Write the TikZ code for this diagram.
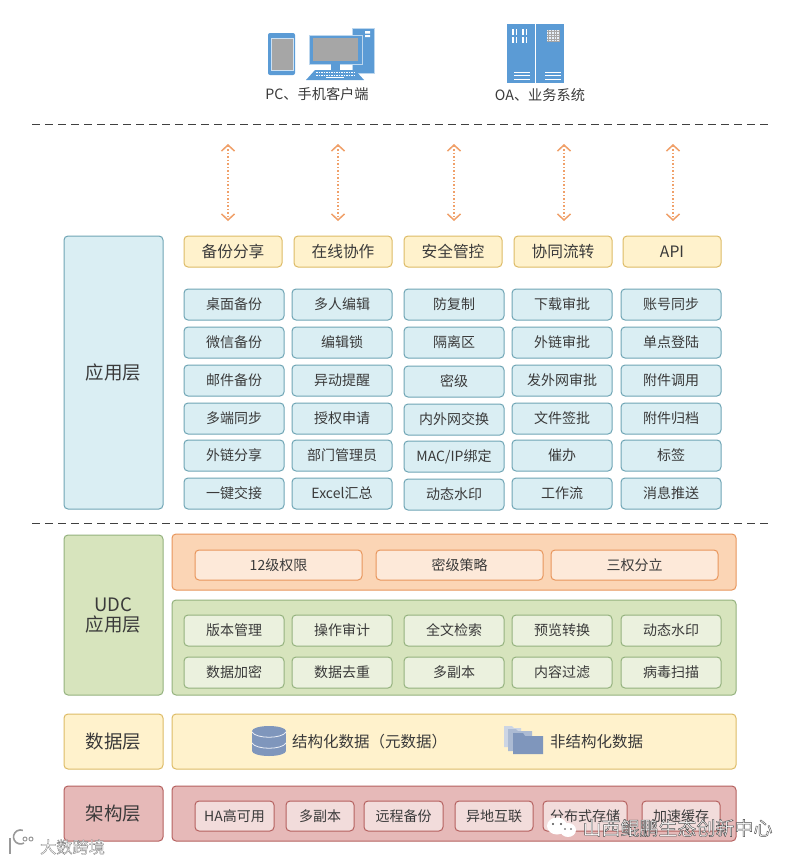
\documentclass[tikz,border=0pt]{standalone}
\usepackage{fontspec}
\setmainfont{Noto Sans CJK SC}
\usetikzlibrary{arrows.meta}
\definecolor{txt}{HTML}{3A3A3A}
\definecolor{bluef}{HTML}{DAEEF3}\definecolor{blued}{HTML}{6FA5B5}
\definecolor{yelf}{HTML}{FFF2CC}\definecolor{yeld}{HTML}{DDBB66}
\definecolor{grnf}{HTML}{D7E4BD}\definecolor{grnd}{HTML}{94B27E}\definecolor{grni}{HTML}{EBF1DE}
\definecolor{orgf}{HTML}{FBD5B5}\definecolor{orgd}{HTML}{E8965C}\definecolor{orgi}{HTML}{FDE9D9}
\definecolor{redf}{HTML}{E6B9B8}\definecolor{redd}{HTML}{B5615F}\definecolor{redi}{HTML}{F2DCDB}
\definecolor{icon}{HTML}{5B9BD5}\definecolor{scr}{HTML}{A6A6A6}\definecolor{dbc}{HTML}{7F96BC}
\definecolor{flowc}{HTML}{F0A069}
\newcommand{\halotext}[2]{\special{pdf:code 2 Tr #1 w #2 G}}
\newcommand{\halooff}{\special{pdf:code 0 Tr 1 w}}
\tikzset{
  basebox/.style={draw,line width=1pt,rounded corners=4pt,inner sep=0pt,align=center,text=txt,font=\fontsize{14}{17}\selectfont},
  bluebox/.style={basebox,fill=bluef,draw=blued},
  yelbox/.style={basebox,fill=yelf,draw=yeld,font=\fontsize{15.7}{18}\selectfont},
  grnbox/.style={basebox,fill=grnf,draw=grnd},
  grninner/.style={basebox,fill=grni,draw=grnd},
  orgbox/.style={basebox,fill=orgf,draw=orgd},
  orginner/.style={basebox,fill=orgi,draw=orgd},
  redbox/.style={basebox,fill=redf,draw=redd},
  redinner/.style={basebox,fill=redi,draw=redd},
  layerfont/.style={font=\fontsize{18.5}{22}\selectfont},
  sepline/.style={draw=black!75,line width=1pt,dash pattern=on 8pt off 5pt},
  flow/.style={draw=flowc,line width=1.5pt,dash pattern=on 1.5pt off 2pt,{Straight Barb[length=6pt,width=13pt,line width=1.5pt]}-{Straight Barb[length=6pt,width=13pt,line width=1.5pt]}},
  caption/.style={text=txt,font=\fontsize{14.2}{17}\selectfont,inner sep=0pt},
  datatext/.style={text=txt,font=\fontsize{15.5}{18}\selectfont,inner sep=0pt,anchor=west},
  wmark/.style={text=white,inner sep=0pt,font=\fontsize{19}{22}\selectfont},
  smark/.style={text=white,inner sep=0pt,font=\fontsize{16.2}{19}\selectfont}
}
\newcommand{\bx}[7]{%
  \pgfmathsetmacro{\cxx}{(#3+#5)/2}\pgfmathsetmacro{\cyy}{(#4+#6)/2}%
  \pgfmathsetlengthmacro{\ww}{(#5-#3)*1pt}\pgfmathsetlengthmacro{\hh}{(#6-#4)*1pt}%
  \node[#2,minimum width=\ww,minimum height=\hh] (#1) at (\cxx,\cyy) {#7};}
\begin{document}
\begin{tikzpicture}[x=1pt,y=-1pt]
\useasboundingbox (0,0) rectangle (798,862);
\fill[white] (0,0) rectangle (798,862);
% tablet
\fill[icon,rounded corners=2pt] (268,33) rectangle (295,75);
\fill[scr,draw=white!70!icon,line width=.7pt] (271,38) rectangle (293,70);
% tower
\fill[icon,draw=white!60!icon,line width=.6pt] (352,28) rectangle (374,73);
\fill[white] (365,31) rectangle (370,33.5) (365,35) rectangle (370,37);
% monitor
\fill[icon,draw=white!60!icon,line width=.7pt] (309,35) rectangle (362,64);
\fill[scr] (313,38) rectangle (358,61);
\fill[icon] (331,64) rectangle (340,70);
\fill[white] (340,65) rectangle (352,70);
\fill[icon] (315,70) -- (355,70) -- (364,80) -- (306,80) -- cycle;
\foreach \r in {72.5,75}{\draw[white,line width=.9pt,dash pattern=on 1.5pt off 1pt] (316,\r) -- (354,\r);}
\draw[white,line width=1.2pt] (326,77.5) -- (344,77.5);
% server
\fill[icon] (507,24) rectangle (535,83);
\fill[icon] (536,24) rectangle (564,83);
\foreach \x in {512,515.5,522,525.5}{\foreach \y in {29,37}{\fill[white] (\x,\y) rectangle +(1.8,6);}}
\fill[white!85!icon] (547,30) rectangle (560,42);
\draw[scr,line width=.4pt,step=2.6pt] (547,30) grid (560,42);
\foreach \y in {72,75.5,79}{\draw[white,line width=.8pt] (514,\y) -- (530,\y) (545,\y) -- (561,\y);}
% captions
\node[caption] (capa) at (317,94) {PC、手机客户端};
\node[caption] (capb) at (540,95.5) {OA、业务系统};
% separators
\coordinate (sa1) at (32,124); \coordinate (sa2) at (772,124);
\coordinate (sb1) at (32,523); \coordinate (sb2) at (772,523);
\draw[sepline] (sa1) -- (sa2);
\draw[sepline] (sb1) -- (sb2);
% arrows
\foreach \n/\x in {a/228,b/338,c/454,d/564,e/673}{
  \coordinate (t\n) at (\x,144); \coordinate (u\n) at (\x,221);
  \draw[flow] (t\n) -- (u\n);
}
% application layer
\bx{app}{bluebox,layerfont}{64}{236}{163}{509}{应用层}
\bx{h1}{yelbox}{184}{236}{282}{267}{备份分享}
\bx{h2}{yelbox}{294}{236}{392}{267}{在线协作}
\bx{h3}{yelbox}{404}{236}{502}{267}{安全管控}
\bx{h4}{yelbox}{514}{236}{612}{267}{协同流转}
\bx{h5}{yelbox}{623}{236}{721}{267}{API}
\bx{a11}{bluebox}{184}{289}{284}{320}{桌面备份}
\bx{a12}{bluebox}{184}{327}{284}{358}{微信备份}
\bx{a13}{bluebox}{184}{365}{284}{396}{邮件备份}
\bx{a14}{bluebox}{184}{403}{284}{434}{多端同步}
\bx{a15}{bluebox}{184}{440}{284}{471}{外链分享}
\bx{a16}{bluebox}{184}{478}{284}{509}{一键交接}
\bx{a21}{bluebox}{292}{289}{392}{320}{多人编辑}
\bx{a22}{bluebox}{292}{327}{392}{358}{编辑锁}
\bx{a23}{bluebox}{292}{365}{392}{396}{异动提醒}
\bx{a24}{bluebox}{292}{403}{392}{434}{授权申请}
\bx{a25}{bluebox}{292}{440}{392}{471}{部门管理员}
\bx{a26}{bluebox}{292}{478}{392}{509}{Excel汇总}
\bx{a31}{bluebox}{404}{289}{504}{320}{防复制}
\bx{a32}{bluebox}{404}{327}{504}{358}{隔离区}
\bx{a33}{bluebox}{404}{366}{504}{397}{密级}
\bx{a34}{bluebox}{404}{404}{504}{435}{内外网交换}
\bx{a35}{bluebox}{404}{441}{504}{472}{MAC/IP绑定}
\bx{a36}{bluebox}{404}{479}{504}{510}{动态水印}
\bx{a41}{bluebox}{512}{289}{612}{320}{下载审批}
\bx{a42}{bluebox}{512}{327}{612}{358}{外链审批}
\bx{a43}{bluebox}{512}{365}{612}{396}{发外网审批}
\bx{a44}{bluebox}{512}{403}{612}{434}{文件签批}
\bx{a45}{bluebox}{512}{440}{612}{471}{催办}
\bx{a46}{bluebox}{512}{478}{612}{509}{工作流}
\bx{a51}{bluebox}{621}{289}{721}{320}{账号同步}
\bx{a52}{bluebox}{621}{327}{721}{358}{单点登陆}
\bx{a53}{bluebox}{621}{365}{721}{396}{附件调用}
\bx{a54}{bluebox}{621}{403}{721}{434}{附件归档}
\bx{a55}{bluebox}{621}{440}{721}{471}{标签}
\bx{a56}{bluebox}{621}{478}{721}{509}{消息推送}
% UDC
\bx{udc}{grnbox,layerfont}{64}{535}{163}{695}{UDC\\[-2pt]应用层}
\bx{org}{orgbox}{172}{534}{736}{590}{}
\bx{o1}{orginner}{195}{550}{362}{580}{12级权限}
\bx{o2}{orginner}{376}{550}{543}{580}{密级策略}
\bx{o3}{orginner}{551}{550}{718}{580}{三权分立}
\bx{grn}{grnbox}{172}{600}{736}{695}{}
\bx{g11}{grninner}{184}{615}{284}{646}{版本管理}
\bx{g12}{grninner}{292}{615}{392}{646}{操作审计}
\bx{g13}{grninner}{404}{615}{504}{646}{全文检索}
\bx{g14}{grninner}{512}{615}{612}{646}{预览转换}
\bx{g15}{grninner}{621}{615}{721}{646}{动态水印}
\bx{g21}{grninner}{184}{657}{284}{688}{数据加密}
\bx{g22}{grninner}{292}{657}{392}{688}{数据去重}
\bx{g23}{grninner}{404}{657}{504}{688}{多副本}
\bx{g24}{grninner}{512}{657}{612}{688}{内容过滤}
\bx{g25}{grninner}{621}{657}{721}{688}{病毒扫描}
% data layer
\bx{dl}{yelbox,layerfont}{64}{714}{163}{769}{数据层}
\bx{dd}{yelbox}{172}{714}{736}{769}{}
% db icon
\fill[dbc] (252,731) rectangle (286,751);
\fill[dbc] (269,731) ellipse[x radius=17,y radius=5];
\fill[dbc] (269,751) ellipse[x radius=17,y radius=5];
\draw[white!85!dbc,line width=.8pt] (252,732) .. controls (256,739) and (282,739) .. (286,732);
\draw[white!85!dbc,line width=.8pt] (252,743) .. controls (256,750) and (282,750) .. (286,743);
\node[datatext] (dt1) at (292,742) {结构化数据（元数据）};
% folders icon
\fill[white!60!dbc] (504,726) -- (512,726) -- (514,728) -- (521,728) -- (521,747) -- (504,747) -- cycle;
\fill[white!35!dbc] (508,729) -- (516,729) -- (518,731) -- (532,731) -- (532,751) -- (508,751) -- cycle;
\fill[dbc] (513,733) -- (523,733) -- (525,736) -- (543,736) -- (543,754) -- (513,754) -- cycle;
\node[datatext] (dt2) at (550,742) {非结构化数据};
% architecture layer
\bx{al}{redbox,layerfont}{64}{786}{163}{841}{架构层}
\bx{aa}{redbox}{172}{786}{736}{841}{}
\bx{r1}{redinner}{195}{801}{274}{831}{HA高可用}
\bx{r2}{redinner}{286}{801}{354}{831}{多副本}
\bx{r3}{redinner}{364}{801}{443}{831}{远程备份}
\bx{r4}{redinner}{455}{801}{533}{831}{异地互联}
\bx{r5}{redinner}{543}{801}{627}{831}{分布式存储}
\bx{r6}{redinner}{642}{801}{720}{831}{加速缓存}
% watermarks
\fill[white] (557,826) ellipse[x radius=10,y radius=8.5];
\fill[white] (568,830) ellipse[x radius=8,y radius=7];
\fill[black!70] (553,824) circle (1.1) (561,824) circle (1.1) (565,829) circle (.9) (571,829) circle (.9);
\node[wmark] (wm1) at (677.5,828) {\halotext{0.42}{0.3}山西鲲鹏生态创新中心\halooff};
\node[smark] (wm2) at (72.5,847) {\halotext{0.35}{0.5}大数跨境\halooff};
\draw[black!40,line width=1.6pt] (10,838) -- (10,854);
\draw[black!40,line width=1.6pt] (24,843) arc[start angle=60,end angle=290,radius=7];
\draw[black!40,line width=1pt] (25,839) circle (2) (31,839) circle (2);
\end{tikzpicture}
\end{document}
